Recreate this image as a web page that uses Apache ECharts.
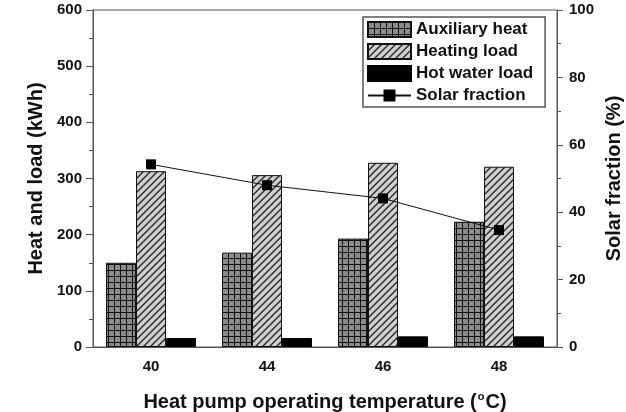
<!DOCTYPE html>
<html>
<head>
<meta charset="utf-8">
<script src="https://cdn.jsdelivr.net/npm/echarts@6/dist/echarts.min.js"></script>
<style>
  html, body { margin: 0; padding: 0; background: #fff; }
  #chart { width: 626px; height: 412px; }
</style>
</head>
<body>
<div id="chart"></div>
<script>
// 数据
var temps = ['40', '44', '46', '48'];
var auxHeat = [150, 168, 193, 223];
var heatingLoad = [313, 306, 328, 321];
var hotWaterLoad = [16, 16, 19, 19];
var solarFraction = [54.2, 48, 44.1, 34.7];

var leftTicks = [0, 600, 100];
var rightTicks = [0, 100, 20];

var font = 'Liberation Sans, Arial, sans-serif';

var heatChart = {
    init: function () {
        heatChart.chart = echarts.init(document.getElementById('chart'));
        heatChart.draw();
    },
    // 网格填充
    gridPattern: function () {
        var c = document.createElement('canvas');
        c.width = 6; c.height = 6;
        var ctx = c.getContext('2d');
        ctx.fillStyle = '#8c8c8c';
        ctx.fillRect(0, 0, 6, 6);
        ctx.fillStyle = '#111';
        ctx.fillRect(0, 0, 6, 1);
        ctx.fillRect(0, 0, 1, 6);
        return c;
    },
    // 斜线填充
    hatchPattern: function () {
        var c = document.createElement('canvas');
        c.width = 7; c.height = 7;
        var ctx = c.getContext('2d');
        ctx.fillStyle = '#cfcfcf';
        ctx.fillRect(0, 0, 7, 7);
        ctx.strokeStyle = '#222';
        ctx.lineWidth = 1.3;
        ctx.beginPath();
        ctx.moveTo(0, 7); ctx.lineTo(7, 0);
        ctx.moveTo(-1, 1); ctx.lineTo(1, -1);
        ctx.moveTo(6, 8); ctx.lineTo(8, 6);
        ctx.stroke();
        return c;
    },
    draw: function () {
        var axisColor = '#555';
        var option = {
            animation: false,
            textStyle: { fontFamily: font },
            grid: {
                left: 93, right: 69, top: 10, bottom: 65,
                outerBoundsMode: 'none',
                show: true, borderColor: axisColor, borderWidth: 1
            },
            legend: {
                orient: 'vertical',
                left: 363, top: 17,
                padding: [4, 12, 3, 4],
                itemGap: 5,
                itemWidth: 43, itemHeight: 15,
                borderColor: axisColor, borderWidth: 1.5,
                textStyle: { fontSize: 17, fontWeight: 'bold', color: '#111', fontFamily: font },
                data: [
                    { name: 'Auxiliary heat', icon: 'rect' },
                    { name: 'Heating load', icon: 'rect' },
                    { name: 'Hot water load', icon: 'rect' },
                    { name: 'Solar fraction' }
                ]
            },
            xAxis: {
                type: 'category',
                data: temps,
                name: '{t|Heat pump operating temperature (}{s|o}{t|C)}',
                nameLocation: 'middle',
                nameGap: 44,
                nameTextStyle: {
                    rich: {
                        t: { fontSize: 20, fontWeight: 'bold', color: '#111', fontFamily: font },
                        s: { fontSize: 11, fontWeight: 'bold', color: '#111', fontFamily: font, verticalAlign: 'top', padding: [0, 1, 11, 1] }
                    }
                },
                axisLine: { lineStyle: { color: axisColor, width: 1 } },
                axisTick: { alignWithLabel: true, length: 6, lineStyle: { color: axisColor } },
                axisLabel: { margin: 12, fontSize: 15, fontWeight: 'bold', color: '#111' }
            },
            yAxis: [
                {
                    type: 'value',
                    min: leftTicks[0], max: leftTicks[1], interval: leftTicks[2],
                    name: 'Heat and load (kWh)',
                    nameLocation: 'middle',
                    nameGap: 46,
                    nameTextStyle: { fontSize: 20, fontWeight: 'bold', color: '#111' },
                    axisLine: { show: true, lineStyle: { color: axisColor } },
                    axisTick: { show: true, length: 7, lineStyle: { color: axisColor } },
                    minorTick: { show: true, splitNumber: 2, length: 4, lineStyle: { color: axisColor } },
                    splitLine: { show: false },
                    axisLabel: { margin: 11, fontSize: 15, fontWeight: 'bold', color: '#111' }
                },
                {
                    type: 'value',
                    min: rightTicks[0], max: rightTicks[1], interval: rightTicks[2],
                    name: 'Solar fraction (%)',
                    nameLocation: 'middle',
                    nameGap: 45,
                    nameRotate: 90,
                    nameTextStyle: { fontSize: 20, fontWeight: 'bold', color: '#111' },
                    axisLine: { show: true, lineStyle: { color: axisColor } },
                    axisTick: { show: true, length: 6, lineStyle: { color: axisColor } },
                    minorTick: { show: true, splitNumber: 2, length: 4, lineStyle: { color: axisColor } },
                    splitLine: { show: false },
                    axisLabel: { margin: 12, fontSize: 15, fontWeight: 'bold', color: '#111' }
                }
            ],
            series: [
                {
                    name: 'Auxiliary heat',
                    type: 'bar',
                    barWidth: 30,
                    barGap: '0%',
                    data: auxHeat,
                    itemStyle: {
                        color: { image: heatChart.gridPattern(), repeat: 'repeat' },
                        borderColor: '#111', borderWidth: 1
                    }
                },
                {
                    name: 'Heating load',
                    type: 'bar',
                    barWidth: 30,
                    barGap: '0%',
                    data: heatingLoad,
                    itemStyle: {
                        color: { image: heatChart.hatchPattern(), repeat: 'repeat' },
                        borderColor: '#111', borderWidth: 1
                    }
                },
                {
                    name: 'Hot water load',
                    type: 'bar',
                    barWidth: 30,
                    barGap: '0%',
                    data: hotWaterLoad,
                    itemStyle: { color: '#000', borderColor: '#000', borderWidth: 1 }
                },
                {
                    name: 'Solar fraction',
                    type: 'line',
                    yAxisIndex: 1,
                    data: solarFraction,
                    symbol: 'rect',
                    symbolSize: 10,
                    z: 5,
                    lineStyle: { color: '#111', width: 1 },
                    itemStyle: { color: '#000' }
                }
            ]
        };
        heatChart.chart.setOption(option);
    }
};

heatChart.init();
</script>
</body>
</html>
